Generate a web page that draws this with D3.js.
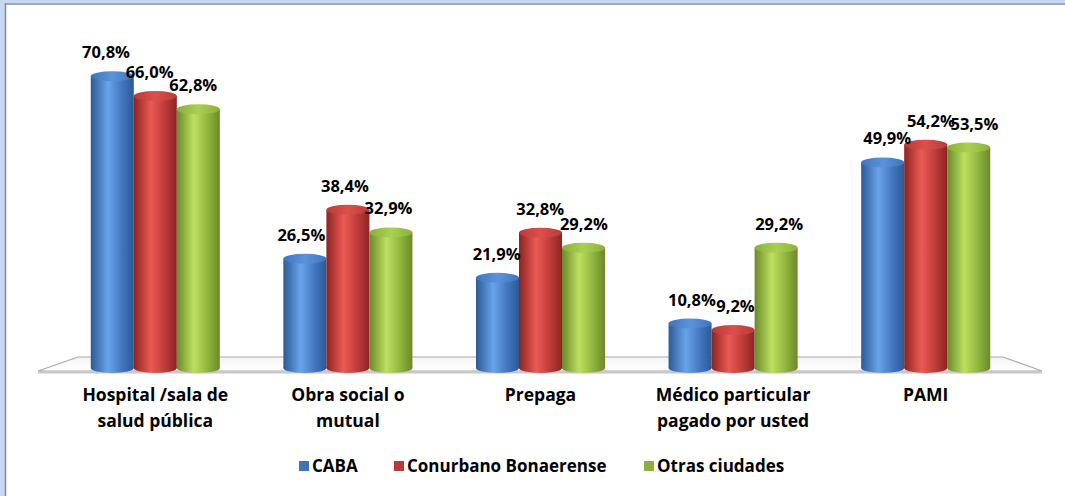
<!DOCTYPE html>
<html>
<head>
<meta charset="utf-8">
<script src="https://cdn.jsdelivr.net/npm/d3@7"></script>
<style>
  body { margin: 0; background: #fff; }
  svg text { font-family: "Open Sans", "Lato", sans-serif; font-weight: bold; fill: #000; }
</style>
</head>
<body>
<div id="chart-area"></div>
<script>
var categories = ["Hospital /sala de|salud pública", "Obra social o|mutual", "Prepaga", "Médico particular|pagado por usted", "PAMI"];
var seriesNames = ["CABA", "Conurbano Bonaerense", "Otras ciudades"];
var caba = [70.8, 26.5, 21.9, 10.8, 49.9];
var conurbano = [66.0, 38.4, 32.8, 9.2, 54.2];
var otras = [62.8, 32.9, 29.2, 29.2, 53.5];
var valueLabels = [
  ["70,8%", "26,5%", "21,9%", "10,8%", "49,9%"],
  ["66,0%", "38,4%", "32,8%", "9,2%", "54,2%"],
  ["62,8%", "32,9%", "29,2%", "29,2%", "53,5%"]
];

var width = 1065, height = 496;
var colors = [
  {dark: "#2c5a96", mid: "#3f74bd", light: "#6aa3ea", top: "#5b93da"},
  {dark: "#8c2422", mid: "#b83a37", light: "#ec5a55", top: "#dc504c"},
  {dark: "#6a8a2a", mid: "#8cb03c", light: "#bde060", top: "#a8d050"}
];

var series = [caba, conurbano, otras];
var data = categories.map(function (c, i) {
  return { cat: c, vals: series.map(function (s, j) { return { s: j, v: s[i], label: valueLabels[j][i] }; }) };
});

var svg = d3.select("#chart-area").append("svg")
  .attr("width", width).attr("height", height);

var defs = svg.append("defs");
colors.forEach(function (c, i) {
  var g = defs.append("linearGradient").attr("id", "cyl" + i)
    .attr("x1", "0%").attr("x2", "100%").attr("y1", "0%").attr("y2", "0%");
  g.append("stop").attr("offset", "0%").attr("stop-color", c.dark);
  g.append("stop").attr("offset", "40%").attr("stop-color", c.light);
  g.append("stop").attr("offset", "75%").attr("stop-color", c.mid);
  g.append("stop").attr("offset", "100%").attr("stop-color", c.dark);
  var t = defs.append("linearGradient").attr("id", "top" + i)
    .attr("x1", "0%").attr("x2", "100%").attr("y1", "0%").attr("y2", "0%");
  t.append("stop").attr("offset", "0%").attr("stop-color", c.mid);
  t.append("stop").attr("offset", "50%").attr("stop-color", c.top);
  t.append("stop").attr("offset", "100%").attr("stop-color", c.mid);
});
var fg = defs.append("linearGradient").attr("id", "floor")
  .attr("x1", "0%").attr("x2", "0%").attr("y1", "0%").attr("y2", "100%");
fg.append("stop").attr("offset", "0%").attr("stop-color", "#f4f4f4");
fg.append("stop").attr("offset", "100%").attr("stop-color", "#ffffff");

// frame
svg.append("rect").attr("x", 0).attr("y", 0).attr("width", 5).attr("height", height).attr("fill", "#c6d9f1");
svg.append("rect").attr("x", 0).attr("y", 0).attr("width", width).attr("height", 3).attr("fill", "#c6d9f1");
svg.append("line").attr("x1", 5.5).attr("x2", 5.5).attr("y1", 3).attr("y2", height).attr("stroke", "#8a8a8a").attr("stroke-width", 1.5);
svg.append("line").attr("x1", 5).attr("x2", width).attr("y1", 4).attr("y2", 4).attr("stroke", "#8a8a8a").attr("stroke-width", 1.5);

var x0 = d3.scaleBand().domain(categories).range([59, 1022]).paddingInner(0.33).paddingOuter(0.165);
var x1 = d3.scaleBand().domain([0, 1, 2]).range([0, x0.bandwidth()]);
var y = d3.scaleLinear().domain([0, 80]).range([368, 368 - 4.12 * 80]);

// floor
var floorPts = [[78, 357], [1003, 357], [1042, 371], [38, 371]];
svg.append("polygon").attr("points", floorPts.map(function (p) { return p.join(","); }).join(" "))
  .attr("fill", "url(#floor)").attr("stroke", "#a8a8a8").attr("stroke-width", 1.2);
svg.append("rect").attr("x", 38).attr("y", 371).attr("width", 1004).attr("height", 2.5).attr("fill", "#c8c8c8");

var ry = 5;
var groups = svg.selectAll(".grp").data(data).enter().append("g")
  .attr("class", "grp")
  .attr("transform", function (d) { return "translate(" + x0(d.cat) + ",0)"; });

var bars = groups.selectAll(".bar").data(function (d) { return d.vals; }).enter().append("g").attr("class", "bar");
var bw = x1.bandwidth();

bars.append("ellipse")
  .attr("cx", function (d) { return x1(d.s) + bw / 2; })
  .attr("cy", y(0))
  .attr("rx", bw / 2).attr("ry", ry)
  .attr("fill", function (d) { return "url(#cyl" + d.s + ")"; });
bars.append("rect")
  .attr("x", function (d) { return x1(d.s); })
  .attr("y", function (d) { return y(d.v); })
  .attr("width", bw)
  .attr("height", function (d) { return y(0) - y(d.v); })
  .attr("fill", function (d) { return "url(#cyl" + d.s + ")"; });
bars.append("ellipse")
  .attr("cx", function (d) { return x1(d.s) + bw / 2; })
  .attr("cy", function (d) { return y(d.v); })
  .attr("rx", bw / 2).attr("ry", ry)
  .attr("fill", function (d) { return "url(#top" + d.s + ")"; });

// value labels
groups.each(function (d) {
  var gx = x0(d.cat);
  d3.select(this).selectAll(".val").data(d.vals).enter().append("text")
    .attr("class", "val")
    .attr("x", function (v) {
      var cx = gx + x1(v.s) + bw / 2;
      return x1(v.s) + bw / 2 + (cx - 560) * 0.014;
    })
    .attr("y", function (v) { return y(v.v) - 18; })
    .attr("text-anchor", "middle")
    .attr("font-size", "16.5px")
    .text(function (v) { return v.label; });
});

// category labels
var catText = svg.selectAll(".cat").data(categories).enter().append("text")
  .attr("class", "cat")
  .attr("x", function (d) { return x0(d) + x0.bandwidth() / 2; })
  .attr("y", 401)
  .attr("text-anchor", "middle")
  .attr("font-size", "17.5px");
catText.selectAll("tspan").data(function (d) { return d.split("|"); }).enter().append("tspan")
  .attr("x", function () { var p = this.parentNode; return p.getAttribute("x"); })
  .attr("dy", function (d, i) { return i === 0 ? 0 : 26; })
  .text(function (d) { return d; });

// legend
var legendX = [299, 394, 644];
var legend = svg.selectAll(".leg").data(seriesNames).enter().append("g")
  .attr("class", "leg")
  .attr("transform", function (d, i) { return "translate(" + legendX[i] + ",461)"; });
legend.append("rect").attr("width", 10).attr("height", 10)
  .attr("fill", function (d, i) { return colors[i].mid; });
legend.append("text").attr("x", 13).attr("y", 11).attr("font-size", "17px")
  .text(function (d) { return d; });
</script>
</body>
</html>
